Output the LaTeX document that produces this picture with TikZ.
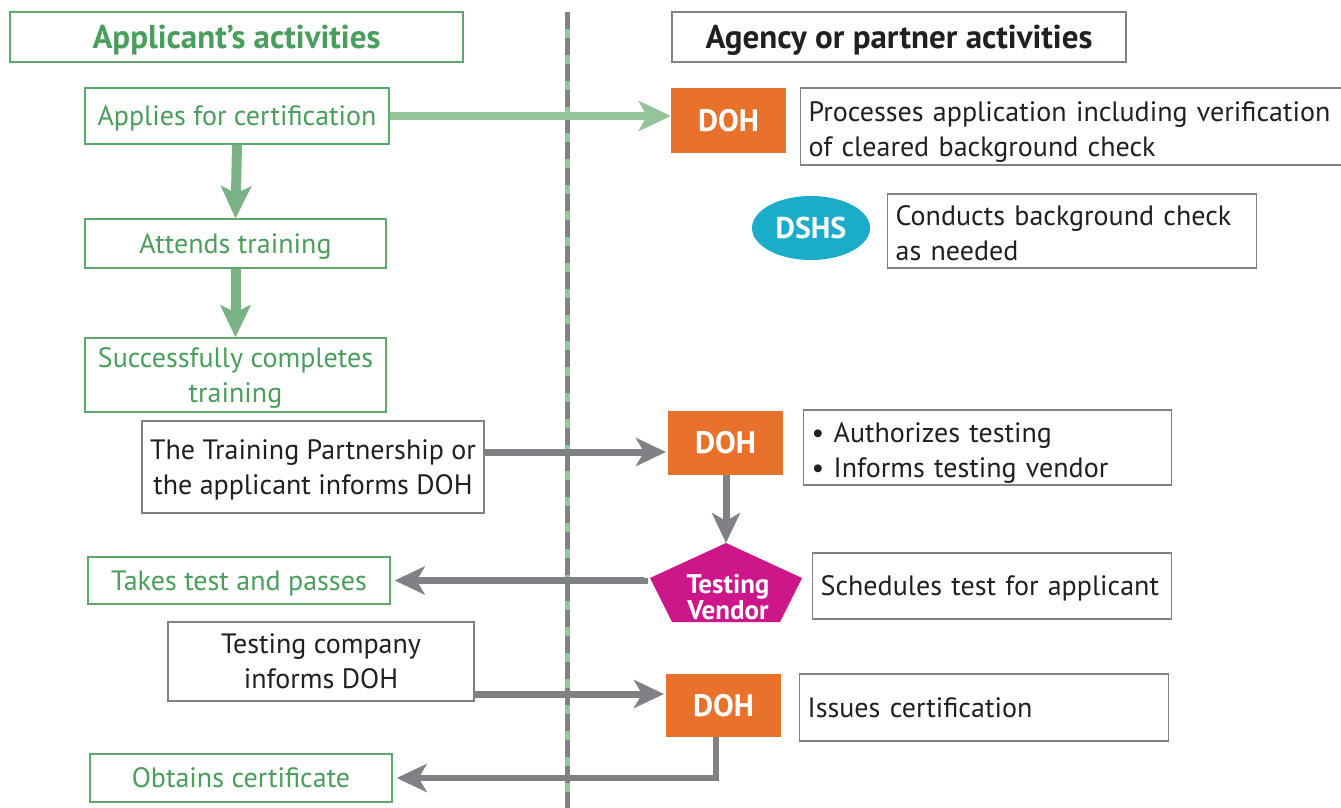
\documentclass[tikz,border=0pt]{standalone}
\usepackage{fontspec}
\setmainfont{PT Sans}
\usetikzlibrary{arrows.meta,shapes.geometric}
\definecolor{gtext}{HTML}{4A9E5C}
\definecolor{gline}{HTML}{5DA86C}
\definecolor{garrow}{HTML}{7AB283}
\definecolor{garrowlt}{HTML}{95C49B}
\definecolor{kline}{HTML}{808184}
\definecolor{karrow}{HTML}{808184}
\definecolor{ktext}{HTML}{231F20}
\definecolor{dohorange}{HTML}{E8722C}
\definecolor{dshsteal}{HTML}{1AACC8}
\definecolor{vendor}{HTML}{CE168B}
\tikzset{
  hdr/.style={draw=#1, line width=2.5, minimum height=50, inner sep=0, text depth=0pt,
    font=\fontsize{33}{38}\selectfont\bfseries},
  gbox/.style={draw=gline, line width=1.3, text=gtext, align=center, inner sep=0, text depth=0pt,
    font=\fontsize{28}{35}\selectfont},
  kbox/.style={draw=kline, line width=1.3, text=ktext, align=center, inner sep=0, text depth=0pt,
    font=\fontsize{28}{35}\selectfont},
  lbox/.style={draw=kline, line width=1.3, text=ktext, align=left, inner xsep=8, inner ysep=0,
    text depth=0pt, anchor=west, font=\fontsize{28}{35}\selectfont},
  % two-line variant: the wrapped paragraph hangs below its first baseline
  lbox2/.style={lbox, text depth=30pt},
  agency/.style={fill=dohorange, text=white, minimum width=115, inner sep=0,
    font=\fontsize{31}{34}\selectfont\bfseries},
  garr/.style={draw=garrow, line width=10, -{Stealth[length=32, width=30, inset=7]}},
  garrlt/.style={draw=garrowlt, line width=8, -{Stealth[length=32, width=30, inset=8]}},
  karr/.style={draw=karrow, line width=7, -{Stealth[length=30, width=28, inset=8]}},
}
\begin{document}
\begin{tikzpicture}[x=1pt, y=-1pt]
\useasboundingbox (0,0) rectangle (1341,808);
\fill[white] (0,0) rectangle (1341,808);

% dividing line between the two lanes
\draw[garrowlt, line width=5] (567,12) -- (567,808);
\draw[kline, line width=5, dash pattern=on 17 off 9] (567,12) -- (567,808);

% lane headings
\node[hdr=gline, text=gtext, minimum width=453] (hdrL) at (236.5,37) {Applicant’s activities};
\node[hdr=kline, text=ktext, minimum width=454] (hdrR) at (899,37) {Agency or partner activities};

% applicant steps
\node[gbox, minimum width=304, minimum height=56] (app) at (237,116) {Applies for certification};
\node[gbox, minimum width=301, minimum height=49] (att) at (235.5,243.5) {Attends training};
\node[gbox, minimum width=301, minimum height=74] (succ) at (235.5,375) {Successfully completes\\training};
\node[kbox, minimum width=342, minimum height=92] (tp) at (313,467) {The Training Partnership or\\the applicant informs DOH};
\node[gbox, minimum width=302, minimum height=47] (take) at (239,580.5) {Takes test and passes};
\node[kbox, minimum width=306, minimum height=79] (tc) at (321,661.5) {Testing company\\informs DOH};
\node[gbox, minimum width=302, minimum height=48] (obt) at (241,778) {Obtains certificate};

% agencies
\node[agency, minimum height=65] (doh1) at (728.5,120.5) {DOH};
\node[ellipse, fill=dshsteal, text=white, minimum width=118, minimum height=64, inner sep=0,
  font=\fontsize{30}{34}\selectfont\bfseries] (dshs) at (811,228) {DSHS};
\node[agency, minimum height=64] (doh2) at (725.5,443) {DOH};
\coordinate (tvtop) at (726,543);
\coordinate (tvleft) at (650,578);
\fill[vendor] (tvtop) -- (802,578) -- (780,622) -- (672,622) -- (tvleft) -- cycle;
\node[text=white, align=center, inner sep=0, font=\fontsize{27}{24}\selectfont\bfseries] (tv) at (728,597) {Testing\\Vendor};
\node[agency, minimum height=63] (doh3) at (723.5,705.5) {DOH};

% agency activities
\node[lbox2, text width=525, minimum height=77] (proc) at (800,126.5) {Processes application including verification\\of cleared background check};
\node[lbox2, text width=353, minimum height=74] (bg) at (887,231) {Conducts background check\\as needed};
\node[lbox2, text width=352, minimum height=75] (auth) at (803,447.5) {\textbullet\ Authorizes testing\\\textbullet\ Informs testing vendor};
\node[lbox, text width=343, minimum height=66] (sched) at (812,586) {Schedules test for applicant};
\node[lbox, text width=353, minimum height=67] (iss) at (799,707.5) {Issues certification};

% connectors
\draw[garrlt] (app.east) -- (app.east -| doh1.west);
\draw[garr] (app.south) -- (att.north);
\draw[garr] (att.south) -- (succ.north);
\draw[karr] (tp.east |- 0,452) -- (666,452);
\draw[karr] (doh2.south -| tvtop) -- (tvtop);
\draw[karr] ([xshift=-6]tvleft) |- ([xshift=4]take.east);
\draw[karr] (tc.east |- 0,694) -- (664,694);
\draw[karr, line width=6] ([xshift=-8]doh3.south) |- ([xshift=4]obt.east);
\end{tikzpicture}
\end{document}
